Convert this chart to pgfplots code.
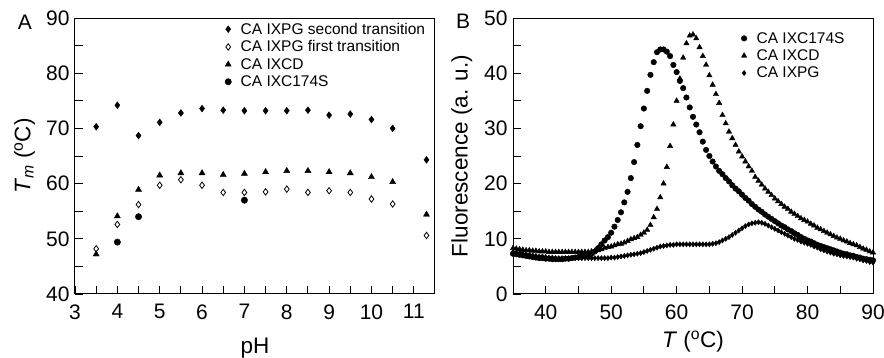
\documentclass[border=0pt]{standalone}
\usepackage{fontspec}
\setmainfont{Liberation Sans}
\usepackage{pgfplots}
\usepackage{pgfplotstable}
\pgfplotsset{compat=1.18}

\pgfplotstableread{
pH   PGsec PGfirst CD   C174S
3.5  70.3  48.2   47.2  nan
4.0  74.2  52.6   54.1  49.4
4.5  68.7  56.2   58.9  54.0
5.0  71.1  59.7   61.5  nan
5.5  72.8  60.7   61.9  nan
6.0  73.6  59.7   61.9  nan
6.5  73.3  58.4   61.6  nan
7.0  73.2  58.4   61.8  57.0
7.5  73.2  58.5   62.1  nan
8.0  73.2  59.0   62.3  nan
8.5  73.3  58.4   62.3  nan
9.0  72.4  58.7   62.1  nan
9.5  72.6  58.4   61.9  nan
10.0 71.6  57.2   61.2  nan
10.5 70.0  56.3   60.3  nan
11.3 64.3  50.6   54.4  nan
}\tableA

\pgfplotstableread{
T    C174S CD   PG
35.0 7.3  8.3  7.6
35.5 7.2  8.2  7.5
36.0 7.1  8.1  7.4
36.5 7.0  8.0  7.3
37.0 6.9  7.9  7.2
37.5 6.8  7.9  7.1
38.0 6.7  7.8  7.0
38.5 6.6  7.8  6.9
39.0 6.5  7.7  6.8
39.5 6.5  7.7  6.8
40.0 6.4  7.7  6.7
40.5 6.4  7.6  6.6
41.0 6.3  7.6  6.6
41.5 6.3  7.6  6.5
42.0 6.3  7.6  6.5
42.5 6.3  7.6  6.5
43.0 6.4  7.6  6.5
43.5 6.4  7.6  6.5
44.0 6.5  7.6  6.5
44.5 6.6  7.6  6.5
45.0 6.7  7.6  6.5
45.5 6.8  7.6  6.5
46.0 6.9  7.6  6.5
46.5 7.1  7.6  6.5
47.0 7.3  7.7  6.5
47.5 7.7  7.8  6.5
48.0 8.3  7.9  6.5
48.5 9.0  8.1  6.5
49.0 9.7  8.3  6.5
49.5 10.3 8.5  6.5
50.0 11.1 8.6  6.6
50.5 12.2 8.8  6.6
51.0 13.4 9.0  6.7
51.5 14.8 9.1  6.8
52.0 16.6 9.3  6.9
52.5 18.5 9.6  7.0
53.0 21.0 9.9  7.1
53.5 23.9 10.1 7.2
54.0 27.0 10.3 7.3
54.5 30.4 10.7 7.4
55.0 33.6 11.1 7.6
55.5 36.8 11.6 7.8
56.0 39.7 12.5 8.0
56.5 42.0 13.9 8.2
57.0 43.8 15.4 8.4
57.5 44.3 17.5 8.6
58.0 44.3 20.0 8.7
58.5 43.9 23.0 8.8
59.0 43.1 26.8 8.9
59.5 41.5 30.7 8.9
60.0 40.2 35.0 9.0
60.5 38.6 39.0 9.0
61.0 37.3 42.8 9.0
61.5 35.6 45.4 9.0
62.0 33.8 46.8 9.0
62.5 32.1 47.0 9.0
63.0 30.7 46.3 9.0
63.5 29.3 44.7 9.0
64.0 27.6 43.1 9.0
64.5 26.1 41.5 9.0
65.0 25.0 39.6 9.0
65.5 24.0 37.9 9.1
66.0 23.1 36.2 9.2
66.5 22.3 34.6 9.4
67.0 21.7 32.4 9.7
67.5 21.0 30.9 10.0
68.0 20.4 29.4 10.3
68.5 19.7 28.2 10.7
69.0 19.1 27.0 11.1
69.5 18.6 25.8 11.5
70.0 18.0 24.9 11.9
70.5 17.4 24.0 12.3
71.0 16.9 23.1 12.6
71.5 16.3 22.3 12.8
72.0 15.8 21.2 12.9
72.5 15.3 20.5 13.0
73.0 14.9 19.8 12.9
73.5 14.4 19.1 12.7
74.0 14.0 18.5 12.4
74.5 13.6 17.9 12.1
75.0 13.2 17.3 11.8
75.5 12.8 16.8 11.5
76.0 12.4 16.3 11.2
76.5 12.1 15.8 10.9
77.0 11.7 15.4 10.6
77.5 11.4 14.9 10.3
78.0 11.0 14.5 10.0
78.5 10.7 14.1 9.8
79.0 10.3 13.7 9.5
79.5 10.0 13.4 9.3
80.0 9.7  13.1 9.1
80.5 9.5  12.7 8.9
81.0 9.2  12.4 8.6
81.5 8.9  12.0 8.4
82.0 8.7  11.7 8.1
82.5 8.5  11.4 7.9
83.0 8.3  11.1 7.7
83.5 8.1  10.8 7.5
84.0 7.9  10.5 7.3
84.5 7.7  10.2 7.2
85.0 7.5  10.0 7.0
85.5 7.3  9.7  6.9
86.0 7.2  9.5  6.8
86.5 7.0  9.2  6.7
87.0 6.9  9.0  6.6
87.5 6.7  8.8  6.4
88.0 6.6  8.5  6.3
88.5 6.4  8.2  6.1
89.0 6.3  8.0  6.0
89.5 6.2  7.7  5.8
90.0 6.1  7.5  5.7
}\tableB

\pgfplotsset{
  myaxis/.style={
    scale only axis,
    width=360pt, height=276pt,
    axis line style={line width=1pt},
    tick pos=left,
    tick align=inside,
    major tick length=8pt,
    minor tick length=8pt,
    every tick/.style={line width=0.9pt, black},
    /pgf/number format/assume math mode=true,
    tick label style={font=\fontsize{21}{25}\selectfont},
    xticklabel style={yshift=-7pt},
    yticklabel style={xshift=-2pt},
    label style={font=\fontsize{22.5}{27}\selectfont},
    xlabel style={at={(axis description cs:0.5,-0.195)}, anchor=center},
    ylabel style={at={(axis description cs:-0.14,0.5)}, anchor=center, rotate=0},
    legend image code/.code={%
      \path[draw=none,fill=none] (-7pt,0pt) rectangle (12pt,0pt);
      \draw[##1] plot coordinates {(0pt,0pt)};},
    legend style={draw=none, fill=none, font=\fontsize{15.5}{18}\selectfont,
      row sep=4pt, column sep=0pt, legend cell align=left, inner sep=0pt,
      nodes={inner sep=0.5pt}},
  },
}

\begin{document}
\begin{tikzpicture}[x=1pt,y=1pt]
\useasboundingbox (-75pt,-64pt) rectangle (809pt,294pt);
\begin{axis}[myaxis,
  at={(0pt,0pt)}, anchor=south west,
  xmin=3, xmax=11.5, ymin=40, ymax=90,
  xtick={3,4,...,11}, minor x tick num=1,
  ytick={40,50,...,90}, minor y tick num=1,
  xlabel={pH},
  ylabel={\textit{T}\textsubscript{\textit{m}} (\textsuperscript{o}C)},
  legend style={at={(axis description cs:0.4056,0.985)}, anchor=north west},
]
\addplot[only marks, mark=diamond*, mark size=3.4pt, black] table[x=pH,y=PGsec]{\tableA};
\addlegendentry{CA IXPG second transition}
\addplot[only marks, mark=diamond*, mark size=3.2pt, black, fill=white, mark options={line width=0.8pt}] table[x=pH,y=PGfirst]{\tableA};
\addlegendentry{CA IXPG first transition}
\addplot[only marks, mark=triangle*, mark size=3.5pt, black] table[x=pH,y=CD]{\tableA};
\addlegendentry{CA IXCD}
\addplot[only marks, mark=*, mark size=3.2pt, black] table[x=pH,y=C174S]{\tableA};
\addlegendentry{CA IXC174S}
\end{axis}
\node[font=\fontsize{21}{25}\selectfont] at (-50pt,272pt) {A};

\begin{axis}[myaxis,
  at={(438pt,0pt)}, anchor=south west,
  xmin=35, xmax=90, ymin=0, ymax=50,
  xtick={40,50,...,90}, minor xtick={35,45,...,85},
  ytick={0,10,...,50}, minor y tick num=1,
  xlabel={\textit{T} (\textsuperscript{o}C)},
  xlabel style={at={(axis description cs:0.5,-0.172)}},
  ylabel={Fluorescence (a. u.)},
  ylabel style={at={(axis description cs:-0.142,0.5)}},
  legend style={at={(axis description cs:0.622,0.951)}, anchor=north west},
]
\addplot[only marks, mark=*, mark size=2.8pt, black] table[x=T,y=C174S]{\tableB};
\addlegendentry{CA IXC174S}
\addplot[only marks, mark=triangle*, mark size=3.1pt, black] table[x=T,y=CD]{\tableB};
\addlegendentry{CA IXCD}
\addplot[only marks, mark=diamond*, mark size=2.6pt, black] table[x=T,y=PG]{\tableB};
\addlegendentry{CA IXPG}
\end{axis}
\node[font=\fontsize{21}{25}\selectfont] at (388pt,273pt) {B};
\end{tikzpicture}
\end{document}
